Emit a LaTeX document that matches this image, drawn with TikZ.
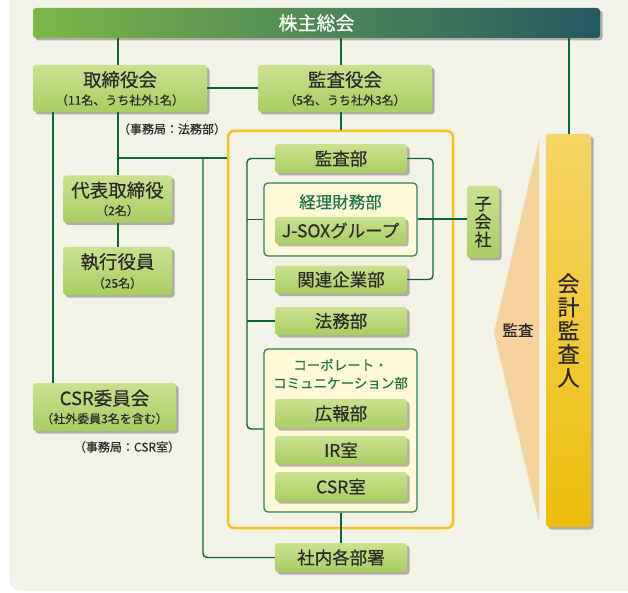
\documentclass[tikz,border=0pt]{standalone}
\usepackage{fontspec}
\setmainfont{Noto Sans CJK JP}[FakeBold=0.35]
\usetikzlibrary{shadows,calc}
\definecolor{bg}{HTML}{F3F2E7}
\definecolor{lineg}{HTML}{0C6631}
\definecolor{gtop}{HTML}{CAE18F}
\definecolor{gbot}{HTML}{A8CF62}
\definecolor{txt}{HTML}{2A2A2A}
\definecolor{ttlg}{HTML}{1E7443}
\definecolor{inbd}{HTML}{2F7F50}
\definecolor{cream}{HTML}{FFF9DA}
\definecolor{yfr}{HTML}{F7C21F}
\definecolor{org}{HTML}{F6D29C}
\definecolor{ytop}{HTML}{F5D565}
\definecolor{ybot}{HTML}{EFBD0C}
\definecolor{bnl}{HTML}{7CB848}
\definecolor{bnr}{HTML}{225A62}
\tikzset{
  shad/.style={drop shadow={shadow xshift=2.5pt,shadow yshift=-2.5pt,opacity=.28,fill=black}},
  gbox/.style={shad, rounded corners=3pt, top color=gtop, bottom color=gbot, draw=none,
               inner sep=0pt, align=center, text=txt},
  bigf/.style={font=\fontsize{17.5}{19}\selectfont},
  mainline/.style={draw=lineg, line width=2pt},
  brline/.style={draw=lineg, line width=1.4pt, rounded corners=4pt},
  subbox/.style={draw=inbd, fill=cream, line width=1.2pt, rounded corners=4pt, inner sep=0pt},
  note/.style={text=txt, font=\fontsize{12}{14}\selectfont, inner sep=0pt}
}
\newcommand{\mainT}[1]{{\fontsize{18.5}{20}\selectfont #1}}
\newcommand{\subT}[1]{{\fontsize{12}{14}\selectfont #1}}
\begin{document}
\begin{tikzpicture}[x=1pt,y=1pt]
\useasboundingbox (0,0) rectangle (628,-593);
\clip (0,0) rectangle (628,-593);
\fill[bg, rounded corners=12pt] (9,20) rectangle (660,-591);

% banner
\node[shad, rounded corners=3pt, left color=bnl, right color=bnr, minimum width=567, minimum height=30,
      inner sep=0pt, text=white, font=\fontsize{19}{21}\selectfont] (soukai) at (316.5,-23) {株主総会};

% top level boxes
\node[gbox, minimum width=174, minimum height=47] (tori) at (120,-88.5)
  {\mainT{取締役会}\\[6pt]\subT{（11名、うち社外1名）}};
\node[gbox, minimum width=174, minimum height=47] (kansayaku) at (345,-88.5)
  {\mainT{監査役会}\\[6pt]\subT{（5名、うち社外3名）}};
\node[note] (jim1) at (172,-129) {（事務局：法務部）};

\node[gbox, minimum width=109, minimum height=47] (daihyo) at (117.5,-199)
  {\mainT{代表取締役}\\[6pt]\subT{（2名）}};
\node[gbox, minimum width=109, minimum height=48] (shikko) at (117.5,-271)
  {\mainT{執行役員}\\[6pt]\subT{（25名）}};
\node[gbox, minimum width=143, minimum height=48] (csr) at (104.5,-407)
  {\mainT{CSR委員会}\\[6pt]\subT{（社外委員3名を含む）}};
\node[note] (jim2) at (127,-447) {（事務局：CSR室）};

% yellow frame
\node[draw=yfr, line width=2.5pt, rounded corners=6pt, minimum width=225, minimum height=397, inner sep=0pt] (frame) at (340.5,-329.5) {};

\node[gbox, bigf, minimum width=132, minimum height=29] (kansabu) at (341,-158.5) {監査部};
\node[subbox, minimum width=153, minimum height=73] (keiri) at (340.5,-219.5) {};
\node[text=ttlg, font=\fontsize{16.5}{18}\selectfont, inner sep=0pt] (keiritt) at (340.5,-202) {経理財務部};
\node[gbox, bigf, minimum width=131, minimum height=27] (jsox) at (340.5,-230.5) {J-SOXグループ};
\node[gbox, bigf, minimum width=132, minimum height=28] (kanren) at (341,-279.5) {関連企業部};
\node[gbox, bigf, minimum width=132, minimum height=28] (houmu) at (341,-321) {法務部};

\node[subbox, minimum width=153, minimum height=163] (cc) at (340.5,-430.5) {};
\node[text=ttlg, font=\fontsize{13.5}{18}\selectfont, inner sep=0pt, align=center] (cctt) at (340.5,-374)
  {コーポレート・\\コミュニケーション部};
\node[gbox, bigf, minimum width=132, minimum height=29] (kouhou) at (341,-413.5) {広報部};
\node[gbox, bigf, minimum width=132, minimum height=28] (ir) at (341,-450) {IR室};
\node[gbox, bigf, minimum width=132, minimum height=29] (csrshitsu) at (341,-486.5) {CSR室};

\node[gbox, bigf, minimum width=132, minimum height=29] (shanai) at (341,-557.5) {社内各部署};

\node[gbox, minimum width=32, minimum height=72, font=\fontsize{17}{18}\selectfont] (kogaisha) at (483,-222) {子\\会\\社};

% audit triangle and auditor
\fill[org] (539,-140) -- (494,-333) -- (539,-522) -- cycle;
\node[text=txt, font=\fontsize{15.5}{17}\selectfont, inner sep=0pt] (kansalbl) at (518,-330) {監査};
\node[shad, rounded corners=3pt, top color=ytop, bottom color=ybot, minimum width=45, minimum height=393,
      inner sep=0pt, align=center, text=txt, font=\fontsize{22}{23.5}\selectfont] (kaikei) at (568.5,-330.5)
  {会\\計\\監\\査\\人};

% coordinates
\coordinate (cL) at (53,0);
\coordinate (cM) at (203,0);
\coordinate (cB) at (247,-429);
\coordinate (cR) at (433,0);

% connectors
\draw[mainline] (soukai.south -| daihyo.north) -- (tori.north -| daihyo.north);
\draw[mainline] (soukai.south -| frame.north) -- (kansayaku.north -| frame.north);
\draw[mainline] (soukai.south -| kaikei.north) -- (kaikei.north);
\draw[mainline] (tori.east) -- (kansayaku.west);
\draw[mainline] (tori.south -| cL) -- (csr.north -| cL);
\draw[mainline] (tori.south -| daihyo.north) -- (daihyo.north);
\draw[mainline] (daihyo.south) -- (shikko.north);
\draw[mainline] (daihyo.north |- kansabu.west) -- (frame.west |- kansabu.west);
\draw[brline] (kansabu.west -| cM) -- (shanai.west -| cM) -- (shanai.west);
\draw[mainline] (kansayaku.south -| frame.north) -- (frame.north);
\draw[mainline] (cc.south) -- (cc.south |- shanai.north);

\draw[brline] (kansabu.west) -- (kansabu.west -| cB) -- (cB) -- (cB -| cc.west);
\draw[brline] (keiri.west -| cB) -- (keiri.west);
\draw[brline] (kanren.west -| cB) -- (kanren.west);
\draw[brline] (houmu.west -| cB) -- (houmu.west);
\draw[brline] (kansabu.east) -- (kansabu.east -| cR) -- (kanren.east -| cR) -- (kanren.east);
\draw[mainline] (keiri.east) -- (keiri.east -| kogaisha.west);
\end{tikzpicture}
\end{document}
